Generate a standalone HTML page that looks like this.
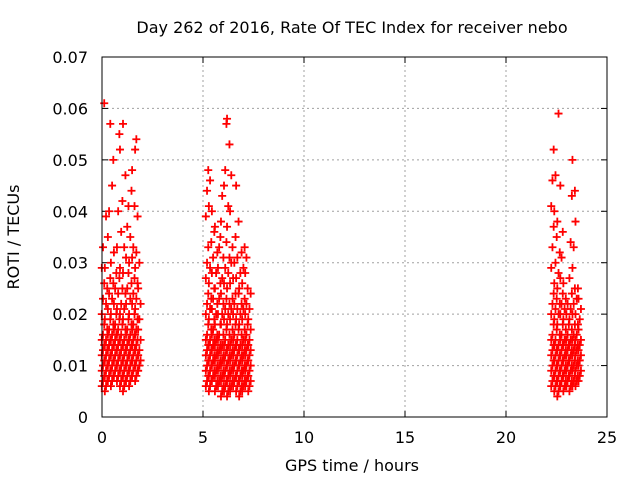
<!DOCTYPE html>
<html><head><meta charset="utf-8">
<style>
body{margin:0;background:#fff}
svg{display:block;font-family:"DejaVu Sans","Liberation Sans",sans-serif}
</style></head>
<body>
<svg id="chart" width="640" height="480" xmlns="http://www.w3.org/2000/svg">
<rect width="640" height="480" fill="#fff"/>
<g id="grid"></g>
<g id="ticks"></g>
<g id="marks"></g>
<rect x="102" y="57" width="505" height="360" fill="none" stroke="#000" stroke-width="1"/>
<text x="352" y="33" font-size="16" text-anchor="middle">Day 262 of 2016, Rate Of TEC Index for receiver nebo</text>
<text x="352" y="471" font-size="16" text-anchor="middle">GPS time / hours</text>
<text x="19" y="237" font-size="16" text-anchor="middle" transform="rotate(-90 19 237)">ROTI / TECUs</text>
</svg>
<script>
const xTicks = [0,5,10,15,20,25];
const yTicks = [0,0.01,0.02,0.03,0.04,0.05,0.06,0.07];
const yTickLabels = ["0","0.01","0.02","0.03","0.04","0.05","0.06","0.07"];
// columns: time (hours) and ROTI values (x1000 TECU/min)
const colTimes = [0.05,0.2,0.35,0.5,0.65,0.8,0.95,1.1,1.25,1.4,1.55,1.7,1.85,
 5.2,5.35,5.5,5.65,5.8,5.95,6.1,6.25,6.4,6.55,6.7,6.85,7.0,7.15,7.3,
 22.3,22.45,22.6,22.75,22.9,23.05,23.2,23.35,23.5,23.65];
const colValues = [
 [6,7,8,9,10,11,12,13,14,15,16,18,20,23,26,29,33,61],
 [5,6,7,8,9,10,11,12,13,14,15,17,19,22,25,29,39],
 [7,8,9,10,11,12,13,14,15,16,17,19,21,24,27,35,40,57],
 [6,7,8,9,10,11,12,13,14,15,16,18,20,23,26,30,45,50],
 [8,9,10,11,12,13,14,15,16,17,18,20,22,25,28,32],
 [7,8,9,10,11,12,13,14,15,16,17,19,21,24,27,33,40,55],
 [6,7,8,9,10,11,12,13,14,15,16,18,20,22,25,29,36,42,52],
 [5,6,7,8,9,10,11,12,13,14,15,17,19,21,24,28,33,47,57],
 [7,8,9,10,11,12,13,14,15,16,17,19,22,25,28,31,37,41],
 [6,7,8,9,10,11,12,13,14,15,16,18,20,23,26,30,35,44],
 [8,9,10,11,12,13,14,15,16,17,18,20,22,24,27,31,33,41,48],
 [7,8,9,10,11,12,13,14,15,16,17,19,21,23,26,29,32,39,52,54],
 [9,10,11,12,13,15,17,19,22,25,30],
 [6,7,8,9,10,11,12,13,14,15,16,18,20,22,24,27,30,33,39,44,48],
 [5,6,7,8,9,10,11,12,13,14,15,17,19,21,23,26,29,34,41,46],
 [7,8,9,10,11,12,13,14,15,16,17,19,21,23,25,28,31,36,40],
 [5,6,7,8,9,10,11,12,13,14,15,16,18,20,22,25,28,32,37],
 [6,7,8,9,10,11,12,13,14,15,16,18,20,23,26,29,33,35],
 [4,5,6,7,8,9,10,11,12,13,14,16,18,20,22,24,27,31,38,43],
 [5,6,7,8,9,10,11,12,13,14,15,17,19,21,23,26,29,34,45,48,57],
 [4,5,6,7,8,9,10,11,12,13,14,16,18,20,22,25,28,31,37,41,53,58],
 [5,6,7,8,9,10,11,12,13,14,15,17,19,21,23,26,30,33,40,47],
 [6,7,8,9,10,11,12,13,14,15,16,18,20,22,24,27,30,35],
 [5,6,7,8,9,10,11,12,13,14,15,17,19,21,24,27,31,38,45],
 [4,5,6,7,8,9,10,11,12,13,14,16,18,20,22,25,28,32],
 [5,6,7,8,9,10,11,12,13,14,15,17,19,21,23,26,29,33],
 [6,7,8,9,10,11,12,13,14,15,16,18,20,22,25,28,31],
 [5,6,7,8,9,10,11,12,13,14,15,17,19,21,24],
 [6,7,8,9,10,11,12,13,14,15,16,18,20,22,24,29,33,37,41,46,52],
 [5,6,7,8,9,10,11,12,13,14,15,17,19,21,23,26,30,35,40,47],
 [4,5,6,7,8,9,10,11,12,13,14,16,18,20,22,25,28,32,38,59],
 [6,7,8,9,10,11,12,13,14,15,16,18,20,22,24,27,31,36,45],
 [5,6,7,8,9,10,11,12,13,14,15,17,19,21,23,26],
 [6,7,8,9,10,11,12,13,14,15,16,18,20,22],
 [5,6,7,8,9,10,11,12,13,14,15,17,19,21,24,27,34,43],
 [6,7,8,9,10,11,12,13,14,15,16,18,20,22,25,29,33,44,50],
 [6,7,8,9,10,11,12,13,14,15,16,18,20,23,25,38],
 [7,8,9,10,11,12,13,14,15,17,19,21,23]
];
const X0=102,X1=607,Y0=417,Y1=57;
const xs=t=>X0+(t/25)*(X1-X0);
const ys=v=>Y0-(v/0.07)*(Y0-Y1);
const NS="http://www.w3.org/2000/svg";
const grid=document.getElementById('grid'),ticks=document.getElementById('ticks'),marks=document.getElementById('marks');
function mk(tag,attrs,parent){const e=document.createElementNS(NS,tag);for(const k in attrs)e.setAttribute(k,attrs[k]);parent.appendChild(e);return e;}
xTicks.forEach((t,i)=>{
  const x=xs(t);
  if(i>0&&i<xTicks.length-1){const g=mk('line',{x1:x,x2:x,y1:Y0,y2:Y1,stroke:'#a0a0a0','stroke-dasharray':'2,3'},grid);
  
  }
  const a=mk('line',{x1:x,x2:x,y1:Y0,y2:Y0-6,stroke:'#000'},ticks);
  
  
  const b=mk('line',{x1:x,x2:x,y1:Y1,y2:Y1+6,stroke:'#000'},ticks);
  
  
  const l=mk('text',{x:x,y:443,'font-size':16,'text-anchor':'middle'},ticks);l.textContent=String(t);
  
  
});
yTicks.forEach((v,i)=>{
  const y=ys(v);
  if(i>0&&i<yTicks.length-1){const g=mk('line',{x1:X0,x2:X1,y1:y,y2:y,stroke:'#a0a0a0','stroke-dasharray':'2,3'},grid);
  
  }
  const a=mk('line',{x1:X0,x2:X0+6,y1:y,y2:y,stroke:'#000'},ticks);
  
  
  const b=mk('line',{x1:X1,x2:X1-6,y1:y,y2:y,stroke:'#000'},ticks);
  
  
  const l=mk('text',{x:88,y:y+6,'font-size':16,'text-anchor':'end'},ticks);l.textContent=yTickLabels[i];
  
  
});
colTimes.forEach((t,i)=>{
  colValues[i].forEach((v,j)=>{
    const off=((j%3)-1)*0.06;
    const x=xs(t+off),y=ys(v/1000);
    const p=mk('path',{d:`M${x-4},${y}H${x+4}M${x},${y-4}V${y+4}`,stroke:'#ff0000','stroke-width':1.8,fill:'none'},marks);
    
    
  });
});
</script>
</body></html>
